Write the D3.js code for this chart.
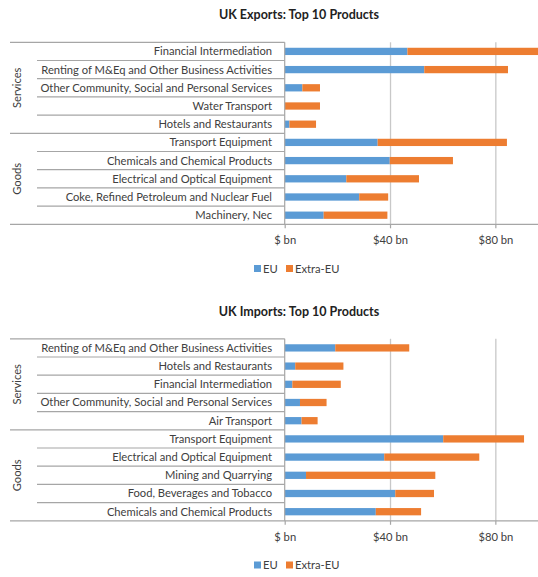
<!DOCTYPE html>
<html>
<head>
<meta charset="utf-8">
<script src="https://cdn.jsdelivr.net/npm/d3@7"></script>
<style>
  body { margin: 0; background: #fff; }
  text { font-family: Lato, "Open Sans", sans-serif; fill: #404040; }
</style>
</head>
<body>
<div id="chart"></div>
<script>
// data ($ bn)
var seriesNames = ["EU", "Extra-EU"];
var colors = ["#5B9BD5", "#ED7D31"];
var tickVals = [0, 40, 80];
var tickLabels = ["$ bn", "$40 bn", "$80 bn"];
var groupNames = ["Services", "Goods"];

var exportCats = ["Financial Intermediation", "Renting of M&Eq and Other Business Activities",
  "Other Community, Social and Personal Services", "Water Transport", "Hotels and Restaurants",
  "Transport Equipment", "Chemicals and Chemical Products", "Electrical and Optical Equipment",
  "Coke, Refined Petroleum and Nuclear Fuel", "Machinery, Nec"];
var exportEU    = [46.6, 53.0, 6.7, 0, 1.8, 35.3, 39.9, 23.4, 28.3, 14.8];
var exportExtra = [50.4, 31.8, 6.7, 13.4, 10.1, 49.1, 24.0, 27.6, 11.0, 24.2];

var importCats = ["Renting of M&Eq and Other Business Activities", "Hotels and Restaurants",
  "Financial Intermediation", "Other Community, Social and Personal Services", "Air Transport",
  "Transport Equipment", "Electrical and Optical Equipment", "Mining and Quarrying",
  "Food, Beverages and Tobacco", "Chemicals and Chemical Products"];
var importEU    = [19.2, 4.0, 2.9, 5.8, 6.4, 60.2, 37.8, 8.1, 42.0, 34.6];
var importExtra = [28.1, 18.3, 18.4, 10.1, 6.1, 30.7, 36.1, 49.1, 14.7, 17.2];

var width = 538, height = 577;

var svg = d3.select("#chart").append("svg")
    .attr("width", width)
    .attr("height", height);

var defs = svg.append("defs");

function drawChart(offsetY, title, cats, eu, extra, id) {
    var g = svg.append("g").attr("transform", "translate(0," + offsetY + ")");
    var left = 284.7, right = 538, top = 42.3, bottom = 224.3;

    var x = d3.scaleLinear().domain([0, 96.2]).range([left, right]);
    var y = d3.scaleBand().domain(d3.range(cats.length))
        .range([top, bottom]).paddingInner(0.6).paddingOuter(0.3);
    var step = y.step();

    g.append("text")
        .attr("x", 299).attr("y", 19)
        .attr("text-anchor", "middle")
        .style("font-size", "12.5px").style("font-weight", "bold")
        .style("fill", "#222")
        .text(title);

    // gridlines
    g.append("g")
        .attr("transform", "translate(0," + bottom + ")")
        .call(d3.axisBottom(x).tickValues(tickVals.slice(1)).tickSize(-(bottom - top)).tickFormat(""))
        .call(function (a) {
            a.select(".domain").remove();
            a.selectAll("line").attr("stroke", "#c8c8c8").attr("stroke-width", 1.3);
        });

    // bars
    defs.append("clipPath").attr("id", "clip" + id)
        .append("rect").attr("x", left).attr("y", top).attr("width", right - left).attr("height", bottom - top);

    var stackData = cats.map(function (c, i) { return { i: i, EU: eu[i], "Extra-EU": extra[i] }; });
    var stacked = d3.stack().keys(seriesNames)(stackData);

    g.append("g").attr("clip-path", "url(#clip" + id + ")")
        .selectAll("g")
        .data(stacked)
        .enter().append("g")
        .attr("fill", function (d, i) { return colors[i]; })
        .selectAll("rect")
        .data(function (d) { return d; })
        .enter().append("rect")
        .attr("x", function (d) { return x(d[0]); })
        .attr("width", function (d) { return x(d[1]) - x(d[0]); })
        .attr("y", function (d) { return y(d.data.i); })
        .attr("height", y.bandwidth());

    // category separator lines
    g.selectAll(".sep")
        .data(d3.range(cats.length + 1))
        .enter().append("line")
        .attr("x1", function (i) { return (i % 5 === 0) ? 10 : 37; })
        .attr("x2", function (i) { return i === cats.length ? right : left; })
        .attr("y1", function (i) { return top + i * step; })
        .attr("y2", function (i) { return top + i * step; })
        .attr("stroke", "#a6a6a6").attr("stroke-width", 1.2);

    // value axis
    g.append("g")
        .attr("transform", "translate(0," + bottom + ")")
        .call(d3.axisBottom(x).tickValues(tickVals).tickSize(4)
            .tickFormat(function (d, i) { return tickLabels[i]; }))
        .call(function (a) {
            a.select(".domain").remove();
            a.selectAll("line").attr("stroke", "#a6a6a6").attr("stroke-width", 1.2);
            a.selectAll("text").attr("dy", "0").attr("y", 20).style("font-size", "11.2px").style("fill", "#404040");
        });

    g.append("line")
        .attr("x1", left).attr("x2", left).attr("y1", top).attr("y2", bottom)
        .attr("stroke", "#a6a6a6").attr("stroke-width", 1.2);

    // category labels
    g.selectAll(".cat")
        .data(cats)
        .enter().append("text")
        .attr("x", 272)
        .attr("y", function (d, i) { return y(i) + y.bandwidth() / 2; })
        .attr("dy", "0.35em")
        .attr("text-anchor", "end")
        .style("font-size", "11.2px")
        .text(function (d) { return d; });

    // group labels
    groupNames.forEach(function (name, k) {
        var cy = top + (k * 5 + 2.5) * step;
        g.append("text")
            .attr("transform", "translate(21," + cy + ") rotate(-90)")
            .attr("text-anchor", "middle")
            .style("font-size", "11.2px")
            .text(name);
    });

    // legend
    var leg = g.append("g").attr("transform", "translate(254,265)");
    var legX = [0, 32];
    seriesNames.forEach(function (name, i) {
        leg.append("rect").attr("x", legX[i]).attr("y", 0).attr("width", 7).attr("height", 7).attr("fill", colors[i]);
        leg.append("text").attr("x", legX[i] + 9).attr("y", 4).attr("dy", "0.35em")
            .style("font-size", "11.2px").text(name);
    });
}

drawChart(0, "UK Exports: Top 10 Products", exportCats, exportEU, exportExtra, 1);
drawChart(296.5, "UK Imports: Top 10 Products", importCats, importEU, importExtra, 2);
</script>
</body>
</html>
